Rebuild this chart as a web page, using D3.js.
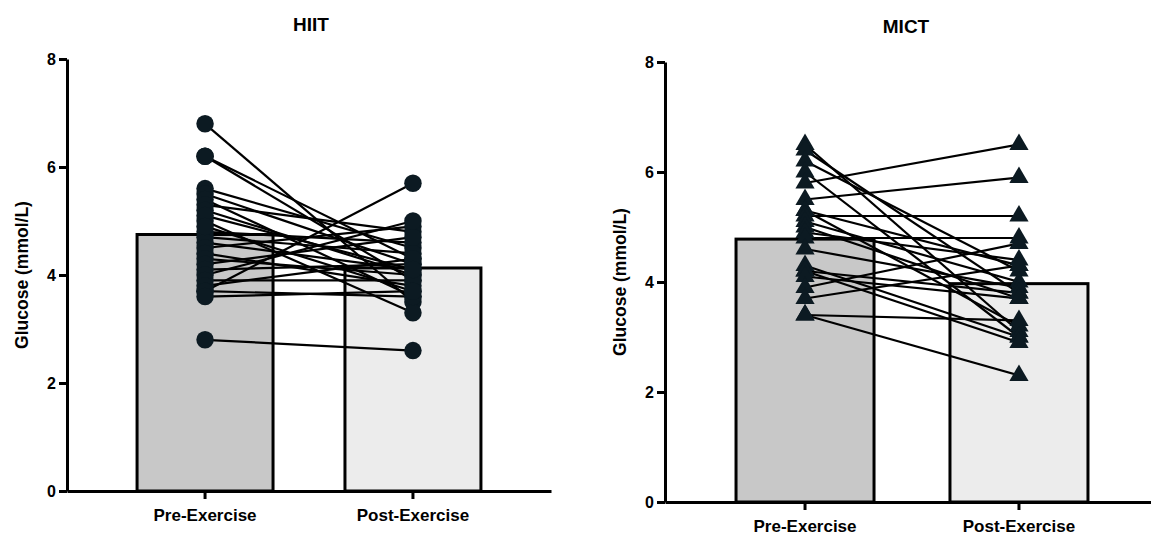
<!DOCTYPE html>
<html lang="en">
<head>
    <meta charset="UTF-8" />
    <title>Glucose pre/post exercise</title>
    <script src="https://d3js.org/d3.v7.min.js"></script>
    <style>
        body { margin: 0; background: #fff; }
        svg { display: block; font-family: "Liberation Sans", Arial, sans-serif; }
        .tick text { font-weight: bold; fill: #000; }
    </style>
</head>
<body>
<div id="chart"></div>
<script>
    // Categories and tick values
    const phases = ["Pre-Exercise", "Post-Exercise"];
    const yTicks = [0, 2, 4, 6, 8];

    // Group means (bar heights)
    const hiitMeans = [4.75, 4.13];
    const mictMeans = [4.78, 3.97];

    // Paired subject values (pre, post)
    const hiitPre  = [6.8, 6.2, 6.2, 5.6, 5.5, 5.4, 5.3, 5.2, 5.0, 4.8, 4.7, 4.6, 4.5, 4.4, 4.3, 4.2, 4.1, 4.0, 3.9, 3.8, 3.7, 3.7, 3.6, 2.8, 5.1, 4.9];
    const hiitPost = [3.5, 4.3, 3.9, 4.5, 4.2, 3.6, 4.8, 4.0, 3.3, 4.6, 4.4, 4.1, 4.9, 3.8, 4.0, 4.7, 4.2, 5.0, 3.9, 4.3, 5.7, 3.6, 3.7, 2.6, 4.1, 3.7];

    const mictPre  = [6.5, 6.4, 6.2, 6.0, 5.8, 5.5, 5.3, 5.3, 5.2, 5.1, 5.0, 4.9, 4.8, 4.6, 4.3, 4.2, 4.2, 4.1, 3.9, 3.7, 3.4, 3.4];
    const mictPost = [3.1, 3.8, 4.2, 3.0, 6.5, 5.9, 4.3, 3.2, 5.2, 4.0, 3.7, 4.4, 4.8, 3.9, 3.0, 2.9, 3.8, 3.7, 4.7, 4.3, 3.3, 2.3];

    const barFills = ["#c8c8c8", "#ececec"];
    const markColor = "#0c1a22";

    const W = 1151, H = 539;
    const svg = d3.select("#chart").append("svg").attr("width", W).attr("height", H);

    function panel(opts) {
        const g = svg.append("g");
        const x = d3.scaleBand().domain(phases)
            .range([opts.left, opts.right])
            .paddingInner(opts.padIn).paddingOuter(opts.padOut);
        const y = d3.scaleLinear().domain([0, 8]).range([opts.bottom, opts.top]);

        // bars
        g.selectAll("rect.bar").data(opts.means).join("rect")
            .attr("class", "bar")
            .attr("x", (d, i) => x(phases[i]))
            .attr("width", x.bandwidth())
            .attr("y", d => y(d))
            .attr("height", d => y(0) - y(d))
            .attr("fill", (d, i) => barFills[i])
            .attr("stroke", "#000")
            .attr("stroke-width", 3);

        // axes
        const yAxis = g.append("g")
            .attr("transform", `translate(${opts.left},0)`)
            .call(d3.axisLeft(y).tickValues(yTicks).tickSize(8).tickSizeOuter(0).tickPadding(3));
        const xAxis = g.append("g")
            .attr("transform", `translate(0,${opts.bottom})`)
            .call(d3.axisBottom(x).tickSize(8).tickSizeOuter(0).tickPadding(10));
        [xAxis, yAxis].forEach(a => {
            a.select(".domain").attr("stroke-width", 3);
            a.selectAll(".tick line").attr("stroke-width", 3);
        });
        xAxis.selectAll(".tick text").style("font-size", "17px");
        yAxis.selectAll(".tick text").style("font-size", "16px");

        // paired lines
        const cx0 = x(phases[0]) + x.bandwidth() / 2;
        const cx1 = x(phases[1]) + x.bandwidth() / 2;
        const pairs = opts.pre.map((v, i) => [v, opts.post[i]]);
        g.selectAll("line.pair").data(pairs).join("line")
            .attr("class", "pair")
            .attr("x1", cx0).attr("x2", cx1)
            .attr("y1", d => y(d[0])).attr("y2", d => y(d[1]))
            .attr("stroke", "#000").attr("stroke-width", 2.2);

        // markers
        const pts = [];
        pairs.forEach(p => { pts.push([cx0, p[0]]); pts.push([cx1, p[1]]); });
        const sym = d3.symbol().type(opts.symbol).size(opts.symbolSize);
        g.selectAll("path.pt").data(pts).join("path")
            .attr("class", "pt")
            .attr("transform", d => `translate(${d[0]},${y(d[1])})`)
            .attr("d", sym)
            .attr("fill", markColor);

        // titles
        g.append("text")
            .attr("x", opts.titleX)
            .attr("y", opts.titleY)
            .attr("text-anchor", "middle")
            .style("font-weight", "bold").style("font-size", "19px")
            .text(opts.title);
        g.append("text")
            .attr("transform", `translate(${opts.labelX},${(opts.top + opts.bottom) / 2}) rotate(-90)`)
            .attr("text-anchor", "middle")
            .style("font-weight", "bold").style("font-size", "17.5px")
            .text("Glucose (mmol/L)");
    }

    panel({
        title: "HIIT", titleX: 311, titleY: 31, left: 67, right: 551, top: 59, bottom: 491,
        padIn: 0.346, padOut: 0.337,
        means: hiitMeans, pre: hiitPre, post: hiitPost,
        symbol: d3.symbolCircle, symbolSize: 240, labelX: 28
    });
    panel({
        title: "MICT", titleX: 906, titleY: 33, left: 665, right: 1159, top: 62, bottom: 502,
        padIn: 0.355, padOut: 0.332,
        means: mictMeans, pre: mictPre, post: mictPost,
        symbol: d3.symbolTriangle, symbolSize: 160, labelX: 626
    });
</script>
</body>
</html>
